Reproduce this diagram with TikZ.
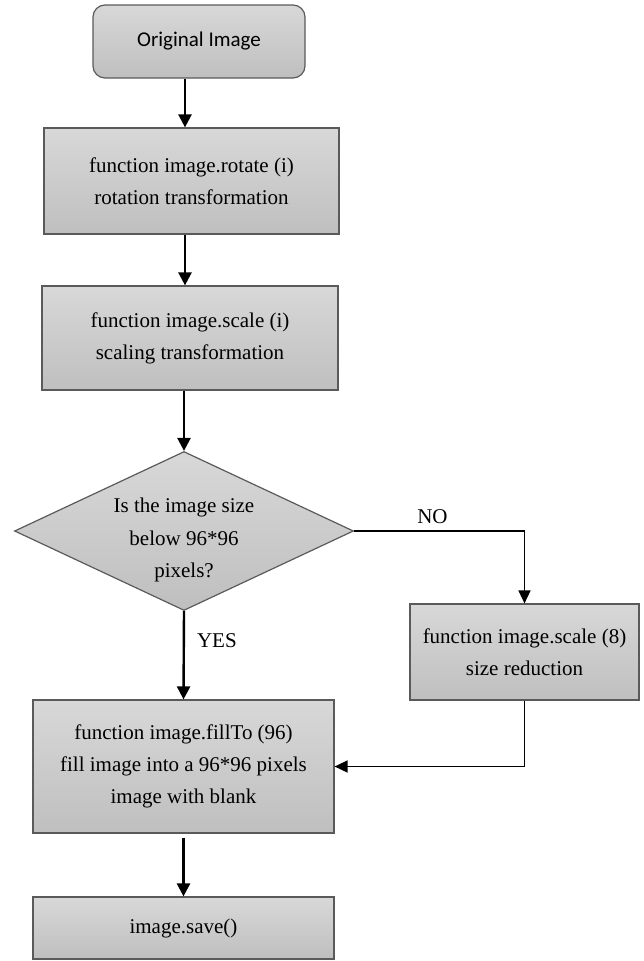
\documentclass[tikz,border=0pt]{standalone}
\usepackage{fontspec}
\setmainfont{Liberation Serif}
\newfontfamily\calibri{Carlito}
\usetikzlibrary{shapes.geometric,arrows.meta}
\definecolor{boxtop}{HTML}{D8D8D8}
\definecolor{boxbot}{HTML}{BFBFBF}
\definecolor{edge}{HTML}{5A5A5A}

\begin{document}
\begin{tikzpicture}
        [%%%%%%%%%%%%%%%%%%%%%%%%%%%%%%
        x=1pt,y=-1pt,
        box/.style={rectangle,draw=edge,line width=1.2pt,top color=boxtop,bottom color=boxbot,
          align=center,inner sep=0pt,font=\fontsize{21}{32}\selectfont},
        start/.style={box,rounded corners=12pt,font=\calibri\fontsize{21}{25}\selectfont},
        decide/.style={diamond,draw=edge,line width=1.2pt,top color=boxtop,bottom color=boxbot,inner sep=0pt},
        txt/.style={align=center,font=\fontsize{21}{32.5}\selectfont},
        arr/.style={-{Triangle[length=13pt,width=13pt]},line width=2.4pt},
        side/.style={-{Triangle[length=13pt,width=12pt]},line width=1.6pt},
        ]%%%%%%%%%%%%%%%%%%%%%%%%%%%%%%

        \useasboundingbox (0,0) rectangle (644,961);

        \node[start,minimum width=212pt,minimum height=73pt] (orig) at (199,41.5) {Original Image};
        \node[box,minimum width=295pt,minimum height=106pt] (rot) at (191.5,181) {function image.rotate (i)\\rotation transformation};
        \node[box,minimum width=296pt,minimum height=104pt] (scl) at (190,338) {function image.scale (i)\\scaling transformation};
        \node[decide,minimum width=339pt,minimum height=159pt] (ask) at (184,531) {};
        \node[txt] (asktext) at (184,540) {Is the image size\\below 96*96\\pixels?};
        \node[box,minimum width=229pt,minimum height=96pt] (shrink) at (524.5,652) {function image.scale (8)\\size reduction};
        \node[box,minimum width=301pt,minimum height=133pt] (fill) at (183.5,766.5) {function image.fillTo (96)\\fill image into a 96*96 pixels\\image with blank};
        \node[box,minimum width=301pt,minimum height=62pt] (save) at (183.5,928) {image.save()};

        \coordinate (spine) at (185,0);
        \draw[arr] (orig.south -| spine) -- (rot.north -| spine);
        \draw[arr] (rot.south -| spine) -- (scl.north -| spine);
        \draw[arr] (scl.south -| ask) -- (ask.north);
        \draw[side] (ask.east) -| (shrink.north) node[txt,pos=0.23,above=3pt] (no) {NO};
        \draw[arr] (ask.south) -- (fill.north) node[txt,pos=0.33,right=12pt,inner sep=0pt] (yes) {YES};
        \draw[side] (shrink.south) |- (fill.east);
        \draw[arr,shorten <=4pt] (fill.south) -- (save.north);

      \end{tikzpicture}
\end{document}
